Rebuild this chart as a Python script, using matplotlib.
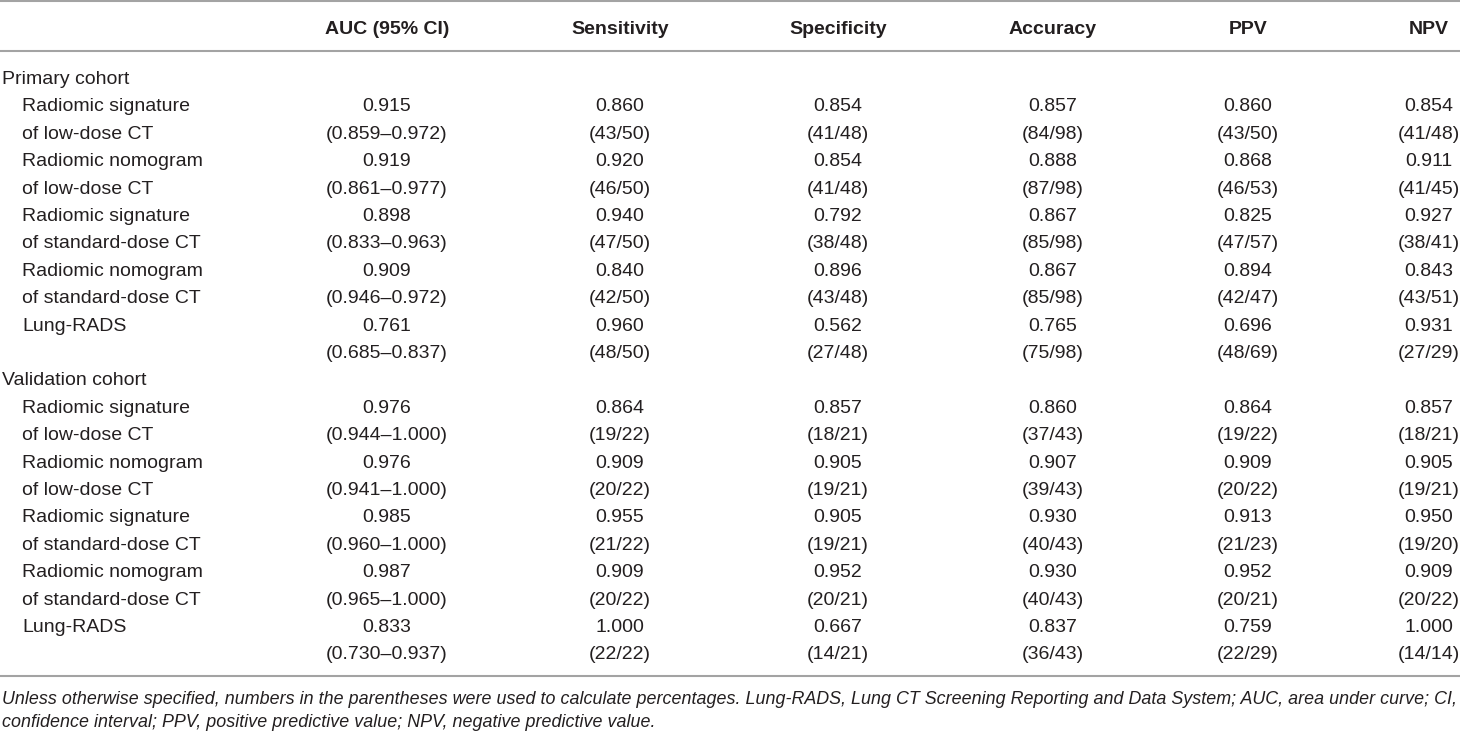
import matplotlib
matplotlib.use("Agg")
import matplotlib.pyplot as plt

# ---------------- data ----------------
columns = ["AUC (95% CI)", "Sensitivity", "Specificity", "Accuracy", "PPV", "NPV"]
groups = ["Primary cohort", "Validation cohort"]
model_line1 = ["Radiomic signature", "Radiomic nomogram", "Radiomic signature",
               "Radiomic nomogram", "Lung-RADS"]
model_line2 = ["of low-dose CT", "of low-dose CT", "of standard-dose CT",
               "of standard-dose CT", ""]

# Primary cohort
p_auc = ["0.915", "0.919", "0.898", "0.909", "0.761"]
p_auc_ci = ["(0.859–0.972)", "(0.861–0.977)", "(0.833–0.963)", "(0.946–0.972)", "(0.685–0.837)"]
p_sens = ["0.860", "0.920", "0.940", "0.840", "0.960"]
p_sens_n = ["(43/50)", "(46/50)", "(47/50)", "(42/50)", "(48/50)"]
p_spec = ["0.854", "0.854", "0.792", "0.896", "0.562"]
p_spec_n = ["(41/48)", "(41/48)", "(38/48)", "(43/48)", "(27/48)"]
p_acc = ["0.857", "0.888", "0.867", "0.867", "0.765"]
p_acc_n = ["(84/98)", "(87/98)", "(85/98)", "(85/98)", "(75/98)"]
p_ppv = ["0.860", "0.868", "0.825", "0.894", "0.696"]
p_ppv_n = ["(43/50)", "(46/53)", "(47/57)", "(42/47)", "(48/69)"]
p_npv = ["0.854", "0.911", "0.927", "0.843", "0.931"]
p_npv_n = ["(41/48)", "(41/45)", "(38/41)", "(43/51)", "(27/29)"]

# Validation cohort
v_auc = ["0.976", "0.976", "0.985", "0.987", "0.833"]
v_auc_ci = ["(0.944–1.000)", "(0.941–1.000)", "(0.960–1.000)", "(0.965–1.000)", "(0.730–0.937)"]
v_sens = ["0.864", "0.909", "0.955", "0.909", "1.000"]
v_sens_n = ["(19/22)", "(20/22)", "(21/22)", "(20/22)", "(22/22)"]
v_spec = ["0.857", "0.905", "0.905", "0.952", "0.667"]
v_spec_n = ["(18/21)", "(19/21)", "(19/21)", "(20/21)", "(14/21)"]
v_acc = ["0.860", "0.907", "0.930", "0.930", "0.837"]
v_acc_n = ["(37/43)", "(39/43)", "(40/43)", "(40/43)", "(36/43)"]
v_ppv = ["0.864", "0.909", "0.913", "0.952", "0.759"]
v_ppv_n = ["(19/22)", "(20/22)", "(21/23)", "(20/21)", "(22/29)"]
v_npv = ["0.857", "0.905", "0.950", "0.909", "1.000"]
v_npv_n = ["(18/21)", "(19/21)", "(19/20)", "(20/22)", "(14/14)"]

footnote1 = ("Unless otherwise specified, numbers in the parentheses were used to calculate "
             "percentages. Lung-RADS, Lung CT Screening Reporting and Data System; AUC, area under curve; CI,")
footnote2 = "confidence interval; PPV, positive predictive value; NPV, negative predictive value."

# ---------------- layout ----------------
W, H = 1460, 733
fig = plt.figure(figsize=(W / 100, H / 100), dpi=100)
ax = fig.add_axes([0, 0, 1, 1])
ax.set_xlim(0, W)
ax.set_ylim(H, 0)
ax.axis("off")

FONT = "Liberation Sans"
TXT = "#231f20"
LINEC = "#a3a3a3"
FS = 14.0
col_x = [387, 620, 838, 1053, 1248, 1429]
row0 = 77
dy = 27.4
base_off = 7.0  # visual centre -> baseline

def put(x, yc, s, ha="center", **kw):
    return ax.text(x, yc + base_off, s, ha=ha, va="baseline", fontsize=kw.pop("fontsize", FS),
                   family=FONT, color=TXT, **kw)

# rules
for y in (1, 51, 676):
    ax.plot([0, W], [y, y], color=LINEC, lw=1.5, solid_capstyle="butt")

# header
for cx, name in zip(col_x, columns):
    put(cx, 27, name, weight="bold")

cohorts = [
    (p_auc, p_auc_ci, p_sens, p_sens_n, p_spec, p_spec_n, p_acc, p_acc_n, p_ppv, p_ppv_n, p_npv, p_npv_n),
    (v_auc, v_auc_ci, v_sens, v_sens_n, v_spec, v_spec_n, v_acc, v_acc_n, v_ppv, v_ppv_n, v_npv, v_npv_n),
]

line = 0
for g, data in zip(groups, cohorts):
    put(2, row0 + dy * line, g, ha="left")
    line += 1
    for i in range(len(model_line1)):
        y1 = row0 + dy * line
        y2 = row0 + dy * (line + 1)
        put(22, y1, model_line1[i], ha="left")
        if model_line2[i]:
            put(22, y2, model_line2[i], ha="left")
        for c in range(6):
            vals, subs = data[2 * c], data[2 * c + 1]
            put(col_x[c], y1, vals[i])
            put(col_x[c], y2, subs[i])
        line += 2

# footnote: fit first line to the table width
fs_note = 13.2
t1 = put(2, 697, footnote1, ha="left", style="italic", fontsize=fs_note)
fig.canvas.draw()
r = fig.canvas.get_renderer()
wpx = t1.get_window_extent(renderer=r).width
fs_note = fs_note * 1454.0 / wpx
t1.set_fontsize(fs_note)
put(2, 720, footnote2, ha="left", style="italic", fontsize=fs_note)

fig.savefig("out.png", dpi=100, facecolor="white")
